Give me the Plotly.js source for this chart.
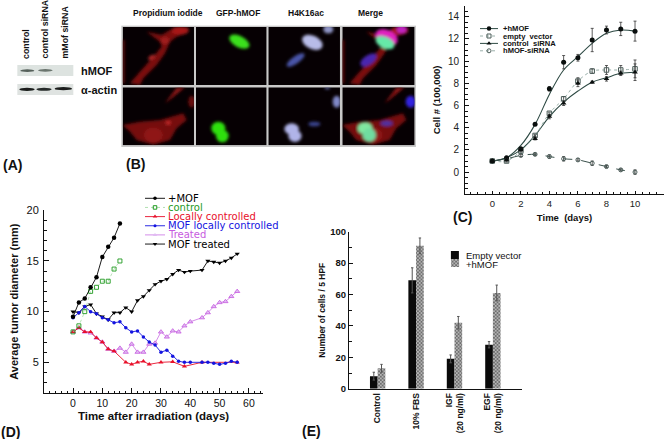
<!DOCTYPE html>
<html><head><meta charset="utf-8">
<script src="https://cdn.plot.ly/plotly-3.0.1.min.js"></script>
<style>html,body{margin:0;padding:0;background:#fff}#c{width:664px;height:439px}</style></head>
<body><div id="c"></div>
<script>
// ---------- Panel C: cell growth ----------
const cDays = [0,1,2,3,4,5,6,7,8,9,10];
const cHmof = [1,1.3,2.1,4.3,7.5,9.9,10.3,11.9,12.8,12.9,12.7];
const cHmofErr = [0,0.1,0.1,0.1,0.2,0.6,0.3,1.05,0.35,0.6,0.9];
const cHmofFit = [1,1.3,2.4,4.3,7.0,9.2,10.4,11.6,12.5,12.8,12.7];
const cEmpty = [1,1,1.9,3.3,5.3,6.6,8.2,9.1,9.2,9.2,9.3];
const cEmptyErr = [0,0.1,0.1,0.1,0.1,0.2,0.3,0.2,0.4,0.4,0.8];
const cCtrl = [1,1.1,2,3,5,6.2,8,8.1,8.4,8.9,9];
const cCtrlErr = [0,0.1,0.1,0.1,0.2,0.2,0.3,0.1,0.2,0.2,0.75];
const cCtrlFit = [1,1.3,2,3.3,5,6.3,7.3,8.1,8.5,8.9,9];
const cSi = [1,1.2,1.5,1.6,1.4,1.2,1.1,0.8,0.5,0.2,0];
const cSiErr = [0,0.1,0.1,0.1,0.15,0.2,0.1,0.2,0.1,0.1,0.2];
const cNames = ['+hMOF','empty  vector','control  siRNA','hMOF-siRNA'];

// ---------- Panel D: tumor diameter ----------
const dMofX = [0,2,4,6,8,10,12,14,16];
const dMofY = [9.5,10.9,11.3,12.4,13.4,15.4,16.4,17.3,18.7];
const dCtrlX = [0,2,4,6,8,10,12,14,16];
const dCtrlY = [8,8.6,10,12,12.4,13,13,14.2,15];
const dLocalX = [0,2,4,6,8,10,12,14,18,20,22,24,26,30,34,38,44,56];
const dLocalY = [8,8.4,8,8,7.4,7,6.3,6.1,5,4.8,5,5.1,4.8,5,5.05,4.6,5,5];
const dMofLocalX = [0,2,4,6,8,10,12,14,16,18,20,22,24,26,28,30,32,34,36,38,40,44,46,48,50,52,54,56];
const dMofLocalY = [9.4,9.9,10.5,10,9.8,9.4,9.2,8.9,9,8.4,8,8.1,7.5,7,6.7,6,6.2,5.6,5.1,5,5,5,5,4.9,4.8,4.9,5.1,5];
const dTreatX = [0,2,4,6,8,10,12,14,16,18,20,22,24,26,28,30,32,34,36,38,40,44,46,48,50,52,54,56];
const dTreatY = [8,8.4,8,7.9,7.4,7,6.3,6.1,6.4,6,6.8,6,6,6.8,6.9,8,7.5,8.1,8,8.6,9,9.4,9.9,10.5,10.9,11,11.5,12];
const dMofTreatX = [0,2,4,6,8,10,12,14,16,18,20,22,24,26,28,30,32,34,36,38,40,44,46,48,50,52,54,56];
const dMofTreatY = [10,9.9,10.5,10.7,9.8,9.5,9.2,9.9,9.9,10.4,10,11.1,11.5,12.1,12.7,13,13.2,13.7,14.1,13.9,14,14.1,15,14.9,14.8,15,15.3,15.7];
const dNames = ['+MOF','control','Locally controlled','MOF locally controlled','Treated','MOF treated'];
const dColors = ['#000000','#1f9a1f','#e8102a','#1414e0','#c75ae0','#000000'];

// ---------- Panel E: invasion bars ----------
const eCats = ['Control','10% FBS','IGF<br>(20 ng/ml)','EGF<br>(20 ng/ml)'];
const eEmpty = [8,69,19,28];
const eEmptyErr = [2.5,8,2.5,2];
const eHmof = [13,91,42,61];
const eHmofErr = [2.5,5,4,5];
const eNames = ['Empty vector','+hMOF'];

// ---------- Page geometry ----------
const W = 664, H = 439;
const domX = (a,b)=>[a/W,b/W];
const domY = (t,b)=>[1-b/H,1-t/H];
const FONT = '"Liberation Sans", Arial, sans-serif';
const WIDE = '"DejaVu Sans", sans-serif';

function axis(dom, range, tickvals, size, color, bold, minorStep, extra){
  return Object.assign({
    domain: dom, range: range, tickmode:'array', tickvals: tickvals, ticktext: tickvals.map(v=>bold?'<b>'+v+'</b>':String(v)),
    showgrid:false, zeroline:false, showline:true, linecolor:'#111', linewidth:1, mirror:false,
    ticks:'inside', ticklen:5, tickwidth:1, tickcolor:'#111',
    tickfont:{family:FONT,size:size,color:color},
    minor:{dtick:minorStep, tick0:0, ticks:'inside', ticklen:2.5, tickwidth:1, tickcolor:'#111', showgrid:false}
  }, extra||{});
}

// ---------- Microscopy / blot backdrop (pictures, not data) ----------
const e=(cx,cy,rx,ry,rot,f,o)=>`<ellipse cx="${cx}" cy="${cy}" rx="${rx}" ry="${ry}" fill="${f}" ${o?`opacity="${o}"`:''} transform="rotate(${rot} ${cx} ${cy})"/>`;
const p=(pts,f)=>`<polygon points="${pts}" fill="${f}"/>`;
const shift=(dx,s)=>`<g transform="translate(${dx},0)">${s}</g>`;
const red1 = p('30,250 60,215 100,170 125,140 120,125 80,95 125,105 150,90 205,82 205,95 170,110 150,125 135,160 110,195 70,235 60,255','#7c0f0f')
  + `<rect x="6" y="120" width="8" height="130" fill="#600c0c"/>`
  + e(180,92,26,12,0,'#a81616') + e(135,122,13,10,0,'#a01a1a') + e(95,172,11,6,-30,'#b02828');
const red2 = p('8,375 60,365 120,360 190,340 200,360 170,385 150,420 100,434 50,420 30,395','#760e0e')
  + p('135,310 170,263 195,262 155,295','#8a1212') + e(215,305,10,18,0,'#6a0c0c') + e(100,405,28,22,0,'#8f1616') + e(145,368,8,6,0,'#c02828');
const panels = [[8,81],[228,81],[445,81],[667,81],[8,262],[228,262],[445,262],[667,262]];
const contents = [
  red1,
  e(358,125,33,17,28,'#3be01c'),
  e(577,127,33,20,25,'#b8bce8') + e(527,180,32,11,-35,'#4a55a8') + e(625,88,15,12,0,'#9096c8'),
  shift(659,red1) + e(845,88,15,12,0,'#c020c0') + e(800,112,35,22,25,'#e020c0') + e(795,128,30,17,25,'#66e8a8') + e(745,180,28,14,-35,'#4828b0'),
  red2,
  e(295,385,21,20,0,'#2ee010') + e(307,408,19,19,0,'#2ee010'),
  e(515,387,22,17,0,'#b0b4e8') + e(525,408,20,18,0,'#b0b4e8') + e(583,372,18,7,0,'#3a4590') + e(650,305,12,18,0,'#8088c8') + e(622,264,8,4,0,'#6068a8'),
  shift(659,red2) + e(735,385,22,18,0,'#80e8a0') + e(748,405,20,20,0,'#70dca0') + e(800,370,18,8,0,'#5030a0') + e(872,305,15,18,0,'#3020e0')
];
let clips='', body='';
panels.forEach((q,i)=>{
  const w = q[0]<200?214:(q[0]<300?212:(q[0]<500?215:217)), h = 174;
  clips += `<clipPath id="k${i}"><rect x="${q[0]}" y="${q[1]}" width="${w}" height="${h}"/></clipPath>`;
  body += `<g clip-path="url(#k${i})"><rect x="${q[0]}" y="${q[1]}" width="${w}" height="${h}" fill="#060003"/><g filter="url(#b)">${contents[i]}</g></g>`;
});
const blot = `<g transform="scale(0.3333)" filter="url(#s)">
<rect x="52" y="195" width="168" height="33" fill="#dde3e0"/><rect x="52" y="252" width="168" height="33" fill="#dfe3e1"/>
${e(82,212,21,4,0,'#55605a')}${e(136,211,22,4,0,'#6a746e')}
${e(81,268,23,5,0,'#1a1f1d')}${e(132,268,23,4.5,0,'#262b29')}${e(190,266,26,5,0,'#1a1f1d')}</g>`;
const svg = `<svg xmlns="http://www.w3.org/2000/svg" width="${W}" height="${H}" viewBox="0 0 ${W} ${H}">
<defs><filter id="b" x="-20%" y="-20%" width="140%" height="140%"><feGaussianBlur stdDeviation="4"/></filter>
<filter id="s"><feGaussianBlur stdDeviation="1.5"/></filter>${clips}</defs>
${blot}<g transform="translate(120,0) scale(0.3333)"><rect x="4" y="77" width="884" height="364" fill="#c9c9c9"/>${body}</g></svg>`;
const backdrop = 'data:image/svg+xml;charset=utf-8,'+encodeURIComponent(svg);

// ---------- Traces ----------
const gr='#4a5c58';
const errC = (a)=>({type:'data',array:a,visible:true,color:'#333',thickness:0.8,width:1.5});
const traces = [
  {x:cDays,y:cHmofFit,xaxis:'x',yaxis:'y',mode:'lines',line:{color:'#2e4a44',width:1.1,shape:'spline'}},
  {x:cDays,y:cCtrlFit,xaxis:'x',yaxis:'y',mode:'lines',line:{color:'#2e4a44',width:1.1,shape:'spline'}},
  {x:cDays,y:cEmpty,xaxis:'x',yaxis:'y',mode:'lines+markers',name:cNames[1],line:{color:'#9ab0aa',width:1,dash:'dot',shape:'spline'},marker:{symbol:'square-open',size:4.5,color:gr},error_y:errC(cEmptyErr)},
  {x:cDays,y:cSi,xaxis:'x',yaxis:'y',mode:'lines+markers',name:cNames[3],line:{color:'#3a504b',width:1,dash:'dash',shape:'spline'},marker:{symbol:'circle-open',size:4,color:gr},error_y:errC(cSiErr)},
  {x:cDays,y:cHmof,xaxis:'x',yaxis:'y',mode:'markers',name:cNames[0],marker:{symbol:'circle',size:5,color:'#0a0f0e'},error_y:errC(cHmofErr)},
  {x:cDays,y:cCtrl,xaxis:'x',yaxis:'y',mode:'markers',name:cNames[2],marker:{symbol:'triangle-up',size:5,color:'#0a0f0e'},error_y:errC(cCtrlErr)},

  {x:dMofTreatX,y:dMofTreatY,xaxis:'x2',yaxis:'y2',mode:'lines+markers',name:dNames[5],line:{color:'#000',width:0.9},marker:{symbol:'triangle-down',size:4.5,color:'#000'}},
  {x:dTreatX,y:dTreatY,xaxis:'x2',yaxis:'y2',mode:'lines+markers',name:dNames[4],line:{color:'#d080e8',width:0.9},marker:{symbol:'triangle-up',size:4.5,color:'#e0bdf2',line:{color:dColors[4],width:0.8}}},
  {x:dLocalX,y:dLocalY,xaxis:'x2',yaxis:'y2',mode:'lines+markers',name:dNames[2],line:{color:dColors[2],width:0.9},marker:{symbol:'triangle-up',size:4.5,color:dColors[2]}},
  {x:dMofLocalX,y:dMofLocalY,xaxis:'x2',yaxis:'y2',mode:'lines+markers',name:dNames[3],line:{color:dColors[3],width:0.9},marker:{symbol:'circle',size:3.5,color:dColors[3]}},
  {x:dCtrlX,y:dCtrlY,xaxis:'x2',yaxis:'y2',mode:'lines+markers',name:dNames[1],line:{color:'#a8dca8',width:0.8,dash:'dot'},marker:{symbol:'square-open',size:4,color:dColors[1],line:{width:0.9}}},
  {x:dMofX,y:dMofY,xaxis:'x2',yaxis:'y2',mode:'lines+markers',name:dNames[0],line:{color:'#000',width:0.9},marker:{symbol:'circle',size:4.5,color:'#000'}},

  {type:'bar',x:eCats,y:eEmpty,xaxis:'x3',yaxis:'y3',name:eNames[0],marker:{color:'#0a0a0a'},error_y:{type:'data',array:eEmptyErr,color:'#555',thickness:1,width:1.2}},
  {type:'bar',x:eCats,y:eHmof,xaxis:'x3',yaxis:'y3',name:eNames[1],marker:{color:'#a8a8a8',pattern:{shape:'x',fgcolor:'#555',bgcolor:'#b4b4b4',size:2.5,solidity:0.45}},error_y:{type:'data',array:eHmofErr,color:'#555',thickness:1,width:1.2}}
];

// Tight legends: key samples on a page-sized helper axis (px coordinates), text as annotations
const anns = [];
const note = (x,y,text,size,opt)=>anns.push(Object.assign({xref:'paper',yref:'paper',x:x/W,y:1-y/H,text:text,showarrow:false,xanchor:'left',yanchor:'middle',align:'left',borderpad:0,font:{family:FONT,size:size,color:'#111'}},opt||{}));

const keyD = [
  {line:{color:'#000',width:0.9},marker:{symbol:'circle',size:3.5,color:'#000'}},
  {line:{color:'#a8dca8',width:0.9,dash:'dot'},marker:{symbol:'square-open',size:3.5,color:dColors[1]}},
  {line:{color:dColors[2],width:0.9},marker:{symbol:'triangle-up',size:4,color:dColors[2]}},
  {line:{color:dColors[3],width:0.9},marker:{symbol:'circle',size:3,color:dColors[3]}},
  {line:{color:'#d080e8',width:0.9},marker:{symbol:'triangle-up',size:4,color:'#e0bdf2'}},
  {line:{color:'#000',width:0.9},marker:{symbol:'triangle-down',size:4,color:'#000'}}
];
keyD.forEach((k,i)=>{
  const y = 198.3 + i*9.15;
  traces.push({x:[145,155,165],y:[y,y,y],xaxis:'x4',yaxis:'y4',mode:'lines',hoverinfo:'skip',line:k.line});
  traces.push({x:[155],y:[y],xaxis:'x4',yaxis:'y4',mode:'markers',hoverinfo:'skip',marker:k.marker});
  note(167.5,y,dNames[i],10,{font:{family:WIDE,size:10,color:dColors[i]}});
});
const keyC = [
  {line:{color:'#2e4a44',width:1},marker:{symbol:'circle',size:4.5,color:'#0a0f0e'}},
  {line:{color:'#9ab0aa',width:1,dash:'dot'},marker:{symbol:'square-open',size:4,color:gr}},
  {line:{color:'#2e4a44',width:1},marker:{symbol:'triangle-up',size:4.5,color:'#0a0f0e'}},
  {line:{color:'#9ab0aa',width:1,dash:'dot'},marker:{symbol:'circle-open',size:4,color:gr}}
];
keyC.forEach((k,i)=>{
  const y = 28.6 + i*7.4;
  traces.push({x:[480,489,498],y:[y,y,y],xaxis:'x4',yaxis:'y4',mode:'lines',hoverinfo:'skip',line:k.line});
  traces.push({x:[489],y:[y],xaxis:'x4',yaxis:'y4',mode:'markers',hoverinfo:'skip',marker:k.marker});
  note(501.5,y,'<b>'+cNames[i]+'</b>',7.6);
});
// Hatched / solid keys for panel E
traces.push({type:'bar',x:[455],y:[8],base:[251],width:[8],xaxis:'x4',yaxis:'y4',hoverinfo:'skip',marker:{color:'#0a0a0a'}});
traces.push({type:'bar',x:[455],y:[8],base:[259],width:[8],xaxis:'x4',yaxis:'y4',hoverinfo:'skip',marker:{color:'#a8a8a8',pattern:{shape:'x',fgcolor:'#555',bgcolor:'#b4b4b4',size:2.5,solidity:0.45}}});
note(464.5,255.3,eNames[0],9.5);
note(464.5,264,eNames[1],9.5);

// Panel A labels
note(26,60,'<b>control</b>',8.8,{textangle:-90,xanchor:'center',yanchor:'bottom'});
note(45,60,'<b>control siRNA</b>',8.8,{textangle:-90,xanchor:'center',yanchor:'bottom'});
note(65,60,'<b>mMof siRNA</b>',8.8,{textangle:-90,xanchor:'center',yanchor:'bottom'});
note(80,71,'<b>hMOF</b>',11);
note(80,90,'<b>α-actin</b>',11);
// Panel B headers
note(168,13,'<b>Propidium iodide</b>',8.5,{xanchor:'center'});
note(238,13,'<b>GFP-hMOF</b>',8.5,{xanchor:'center'});
note(306,13,'<b>H4K16ac</b>',8.5,{xanchor:'center'});
note(371,13,'<b>Merge</b>',8.5,{xanchor:'center'});
// Panel letters
note(2,165,'<b>(A)</b>',14);
note(125,164,'<b>(B)</b>',14);
note(452,217,'<b>(C)</b>',14);
note(0,432,'<b>(D)</b>',14);
note(301,431,'<b>(E)</b>',14);

const layout = {
  width:W, height:H, margin:{l:0,r:0,t:0,b:0,pad:0}, autosize:false, showlegend:false,
  paper_bgcolor:'#fff', plot_bgcolor:'rgba(0,0,0,0)', barmode:'group', bargap:0.6, bargroupgap:0,
  font:{family:FONT,color:'#111'},
  images:[{source:backdrop,xref:'paper',yref:'paper',x:0,y:1,sizex:1,sizey:1,xanchor:'left',yanchor:'top',sizing:'stretch',layer:'below'}],
  xaxis: axis(domX(465,664),[-1.91,12.03],[0,2,4,6,8,10],9.5,'#222',false,0.5,{anchor:'y',ticklen:3.5,
    title:{text:'<b>Time  (days)</b>',font:{family:FONT,size:9.5,color:'#111'},standoff:6}}),
  yaxis: axis(domY(5.6,194.3),[-2,15],[0,2,4,6,8,10,12,14],10,'#222',false,0.5,{anchor:'x',ticklen:3.5,ticklabelstandoff:3,
    title:{text:'<b>Cell # (100,000)</b>',font:{family:FONT,size:9.5,color:'#111'},standoff:5}}),
  xaxis2: axis(domX(44,263),[-9.9,64.8],[0,10,20,30,40,50,60],10.5,'#111',false,2,{anchor:'y2',
    title:{text:'<b>Time after irradiation (days)</b>',font:{family:FONT,size:11.5,color:'#111'},standoff:4}}),
  yaxis2: axis(domY(210.3,393),[1.97,20],[5,10,15,20],11,'#111',false,1,{anchor:'x2',ticklabelstandoff:2,
    title:{text:'<b>Average tumor diameter (mm)</b>',font:{family:FONT,size:11,color:'#111'},standoff:5}}),
  xaxis3: {domain:domX(349,521.7),type:'category',categoryorder:'array',categoryarray:eCats,range:[-0.746,3.75],anchor:'y3',
    showline:true,linecolor:'#111',linewidth:1,ticks:'',tickangle:-90,showgrid:false,zeroline:false,automargin:false,
    tickfont:{family:FONT,size:8.5,color:'#111'},tickmode:'array',tickvals:eCats,ticktext:eCats.map(s=>s.split('<br>').map(t=>'<b>'+t+'</b>').join('<br>'))},
  yaxis3: axis(domY(231.7,388.7),[0,100],[0,20,40,60,80,100],9.5,'#111',true,10,{anchor:'x3',ticklen:4,
    title:{text:'<b>Number of cells / 5 HPF</b>',font:{family:FONT,size:8.5,color:'#111'},standoff:3}}),
  xaxis4: {domain:[0,1],range:[0,W],visible:false,fixedrange:true,anchor:'y4'},
  yaxis4: {domain:[0,1],range:[H,0],visible:false,fixedrange:true,anchor:'x4'},
  annotations:anns
};
Plotly.newPlot('c',traces,layout,{staticPlot:true,displayModeBar:false});
</script></body></html>
